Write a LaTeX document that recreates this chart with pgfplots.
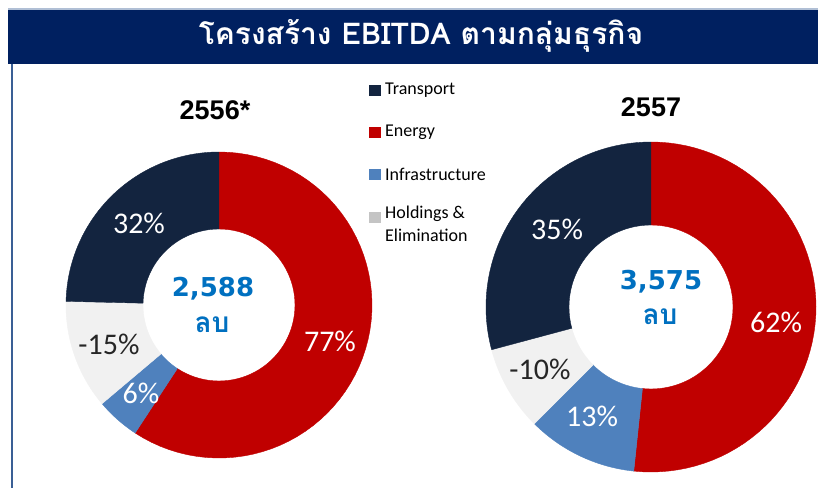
\documentclass[border=0pt]{standalone}
\usepackage{pgfplots}
\pgfplotsset{compat=1.18}
\usepackage{pgfplotstable}
\usepackage{fontspec}
\setmainfont{Carlito}
\newfontfamily\thaifont[Script=Thai]{Loma}
\newfontfamily\numfont{DejaVu Sans}
\newfontfamily\arialfont{Liberation Sans}
\definecolor{navyslice}{HTML}{13243F}
\definecolor{redslice}{HTML}{C00000}
\definecolor{blueslice}{HTML}{4F81BD}
\definecolor{grayslice}{HTML}{F1F1F1}
\definecolor{graymark}{HTML}{C4C4C4}
\definecolor{titlebar}{HTML}{002060}
\definecolor{framecol}{HTML}{3A5F95}
\definecolor{centerblue}{HTML}{0070C0}

% EBITDA structure by business group (% share), clockwise from 12 o'clock
\pgfplotstableread{
segment value color
Energy 77 redslice
Infrastructure 6 blueslice
Holdings -15 grayslice
Transport 32 navyslice
}\dataA
\pgfplotstableread{
segment value color
Energy 62 redslice
Infrastructure 13 blueslice
Holdings -10 grayslice
Transport 35 navyslice
}\dataB

% #1 table, #2 cx, #3 cy, #4 outer R, #5 inner r (pixel units, y downward)
\newcommand\donut[5]{%
  \def\tot{0}%
  \pgfplotsforeachungrouped \i in {0,...,3}{%
    \pgfplotstablegetelem{\i}{value}\of#1%
    \pgfmathsetmacro\tot{\tot+abs(\pgfplotsretval)}%
  }%
  \def\ang{90}%
  \pgfplotsforeachungrouped \i in {0,...,3}{%
    \pgfplotstablegetelem{\i}{value}\of#1%
    \pgfmathsetmacro\nang{\ang-abs(\pgfplotsretval)/\tot*360}%
    \pgfplotstablegetelem{\i}{color}\of#1%
    \edef\tmp{\noexpand\addplot[fill=\pgfplotsretval,draw=\pgfplotsretval,line width=0.4pt,domain=0:2,samples=121,variable=\noexpand\t]
      ({#2+(\noexpand\t<1.008 ? #4 : #5)*cos(\noexpand\t<1.008 ? \ang+(\nang-\ang)*\noexpand\t : \nang-(\nang-\ang)*(\noexpand\t-1.016667)/0.983333)},
       {#3-(\noexpand\t<1.008 ? #4 : #5)*sin(\noexpand\t<1.008 ? \ang+(\nang-\ang)*\noexpand\t : \nang-(\nang-\ang)*(\noexpand\t-1.016667)/0.983333)}) -- cycle;}%
    \tmp
    \let\ang\nang
  }%
}

\begin{document}
\begin{tikzpicture}
\begin{axis}[
  width=818bp, height=488bp, scale only axis,
  xmin=0, xmax=818, ymin=0, ymax=488, y dir=reverse,
  hide axis, clip=false,
]
\fill[white] (axis cs:0,0) rectangle (axis cs:818,488);
% title bar and frame
\fill[framecol!40] (axis cs:8,8) rectangle (axis cs:818,10);
\fill[titlebar] (axis cs:8,10) rectangle (axis cs:818,64);
\draw[framecol, line width=1.5bp] (axis cs:12,64) -- (axis cs:12,488);
\node[text=white] at (axis cs:421,36) {\thaifont\bfseries\fontsize{30bp}{32bp}\selectfont โครงสร้าง EBITDA ตามกลุ่มธุรกิจ};

% donuts
\donut{\dataA}{219}{305}{153}{76}
\donut{\dataB}{651}{307}{165}{82}

% year titles
\node at (axis cs:215,110) {\arialfont\bfseries\fontsize{27bp}{30bp}\selectfont 2556*};
\node at (axis cs:651,107) {\arialfont\bfseries\fontsize{27bp}{30bp}\selectfont 2557};

% center labels
\node[text=centerblue] at (axis cs:213,289) {\numfont\bfseries\fontsize{26bp}{30bp}\selectfont 2,588};
\node[text=centerblue] at (axis cs:212,325) {\thaifont\bfseries\fontsize{28bp}{30bp}\selectfont ลบ};
\node[text=centerblue] at (axis cs:661,282) {\numfont\bfseries\fontsize{26bp}{30bp}\selectfont 3,575};
\node[text=centerblue] at (axis cs:660,317) {\thaifont\bfseries\fontsize{28bp}{30bp}\selectfont ลบ};

% slice labels
\begin{scope}[every node/.style={font=\fontsize{30bp}{32bp}\selectfont}]
\node[text=white] at (axis cs:139,223) {32\%};
\node[text=white] at (axis cs:330,341) {77\%};
\node[text=black!85] at (axis cs:109,344) {-15\%};
\node[text=white] at (axis cs:141,393) {6\%};
\node[text=white] at (axis cs:557,229) {35\%};
\node[text=white] at (axis cs:776,322) {62\%};
\node[text=black!85] at (axis cs:540,369) {-10\%};
\node[text=white] at (axis cs:592,416) {13\%};
\end{scope}

% legend
\begin{scope}[every node/.style={font=\fontsize{18bp}{23bp}\selectfont, anchor=west, inner sep=0pt}]
\fill[navyslice] (axis cs:369,85) rectangle (axis cs:381,96);
\node at (axis cs:385,90.5) {Transport};
\fill[redslice] (axis cs:369,127) rectangle (axis cs:381,138);
\node at (axis cs:385,132) {Energy};
\fill[blueslice] (axis cs:369,169) rectangle (axis cs:381,180);
\node at (axis cs:385,174) {Infrastructure};
\fill[graymark] (axis cs:369,212) rectangle (axis cs:381,223);
\node[align=left, anchor=north west] at (axis cs:385,206) {Holdings \&\\Elimination};
\end{scope}
\end{axis}
\end{tikzpicture}
\end{document}
